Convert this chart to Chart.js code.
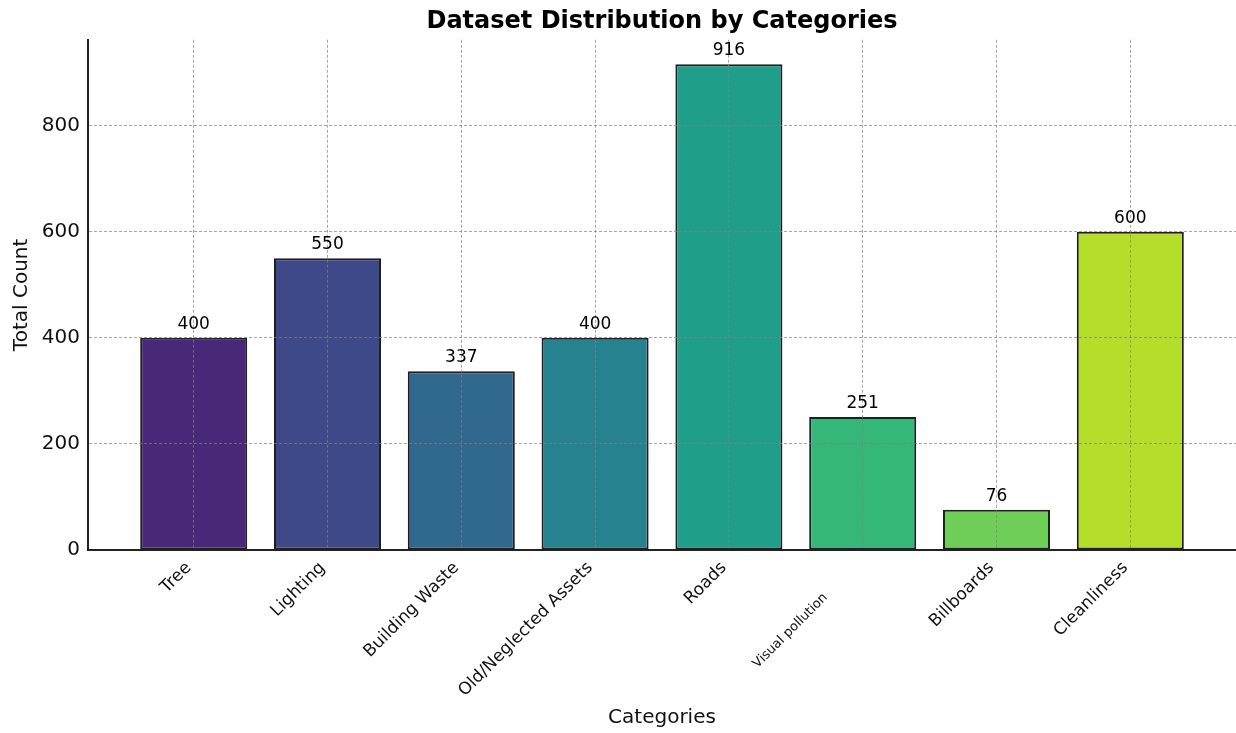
<!DOCTYPE html>
<html>
<head>
<meta charset="utf-8">
<script src="https://cdn.jsdelivr.net/npm/chart.js"></script>
<style>
  html, body { margin: 0; padding: 0; background: #fff; }
  #wrap { width: 1236px; height: 733px; }
</style>
</head>
<body>
<div id="wrap"><canvas id="chart" width="1236" height="733"></canvas></div>
<script>
const categories = ["Tree", "Lighting", "Building Waste", "Old/Neglected Assets", "Roads", "Visual pollution           ", "Billboards", "Cleanliness"];
const counts = [400, 550, 337, 400, 916, 251, 76, 600];
const barColors = ["#482878", "#3e4989", "#31688e", "#26828e", "#1f9e89", "#35b779", "#6ece58", "#b5de2b"];
const yTicks = [0, 200, 400, 600, 800];

const FONT = "'DejaVu Sans', sans-serif";
const gridColor = "rgba(128,128,128,0.7)";

// value labels above each bar
const valueLabels = {
  id: "valueLabels",
  afterDraw(chart) {
    const ctx = chart.ctx;
    const meta = chart.getDatasetMeta(0);
    ctx.save();
    ctx.font = "17px " + FONT;
    ctx.fillStyle = "#000";
    ctx.textAlign = "center";
    ctx.textBaseline = "bottom";
    meta.data.forEach((bar, i) => {
      ctx.fillText(String(counts[i]), bar.x, bar.y - 5);
    });
    ctx.restore();
  }
};

const ctx = document.getElementById("chart").getContext("2d");
new Chart(ctx, {
  type: "bar",
  data: {
    datasets: [{
      data: counts.map((v, i) => ({ x: i, y: v })),
      backgroundColor: barColors,
      borderColor: "rgba(0,0,0,0.88)",
      borderWidth: 2,
      borderSkipped: false,
      barPercentage: 1,
      categoryPercentage: 0.8
    }]
  },
  options: {
    responsive: false,
    animation: false,
    layout: { padding: 0 },
    plugins: {
      legend: { display: false },
      tooltip: { enabled: false },
      title: {
        display: true,
        fullSize: false,
        text: "Dataset Distribution by Categories",
        color: "#000",
        font: { family: FONT, size: 24, weight: "bold", lineHeight: 1.2 },
        padding: { top: 7, bottom: 4 }
      }
    },
    scales: {
      x: {
        type: "linear",
        min: -0.79,
        max: 7.79,
        offset: false,
        afterBuildTicks: s => { s.ticks = categories.map((c, i) => ({ value: i })); },
        afterFit: s => { s.height = 183; },
        border: { display: true, color: "#222", width: 2, dash: [3, 2], z: 1 },
        grid: { color: gridColor, lineWidth: 1, drawTicks: false, offset: false, z: 1 },
        ticks: {
          autoSkip: false,
          minRotation: 45,
          maxRotation: 45,
          padding: 8,
          labelOffset: -5,
          color: "#111",
          font: c => ({ family: FONT, size: c.index === 5 ? 13 : 17 }),
          callback: v => categories[v]
        },
        title: {
          display: true,
          text: "Categories",
          color: "#111",
          font: { family: FONT, size: 20 },
          padding: { top: 0, bottom: 3 }
        }
      },
      y: {
        min: 0,
        max: 962,
        afterBuildTicks: s => { s.ticks = yTicks.map(v => ({ value: v })); },
        afterFit: s => { s.width = 88; },
        border: { display: true, color: "#222", width: 2, dash: [3, 2], z: 1 },
        grid: {
          color: c => (c.tick && c.tick.value === 0 ? "rgba(0,0,0,0)" : gridColor),
          lineWidth: 1,
          drawTicks: false,
          z: 1
        },
        ticks: {
          padding: 8,
          color: "#111",
          font: { family: FONT, size: 20 }
        },
        title: {
          display: true,
          text: "Total Count",
          color: "#111",
          font: { family: FONT, size: 20 },
          padding: { top: 10, bottom: 0 }
        }
      }
    }
  },
  plugins: [valueLabels]
});
</script>
</body>
</html>
